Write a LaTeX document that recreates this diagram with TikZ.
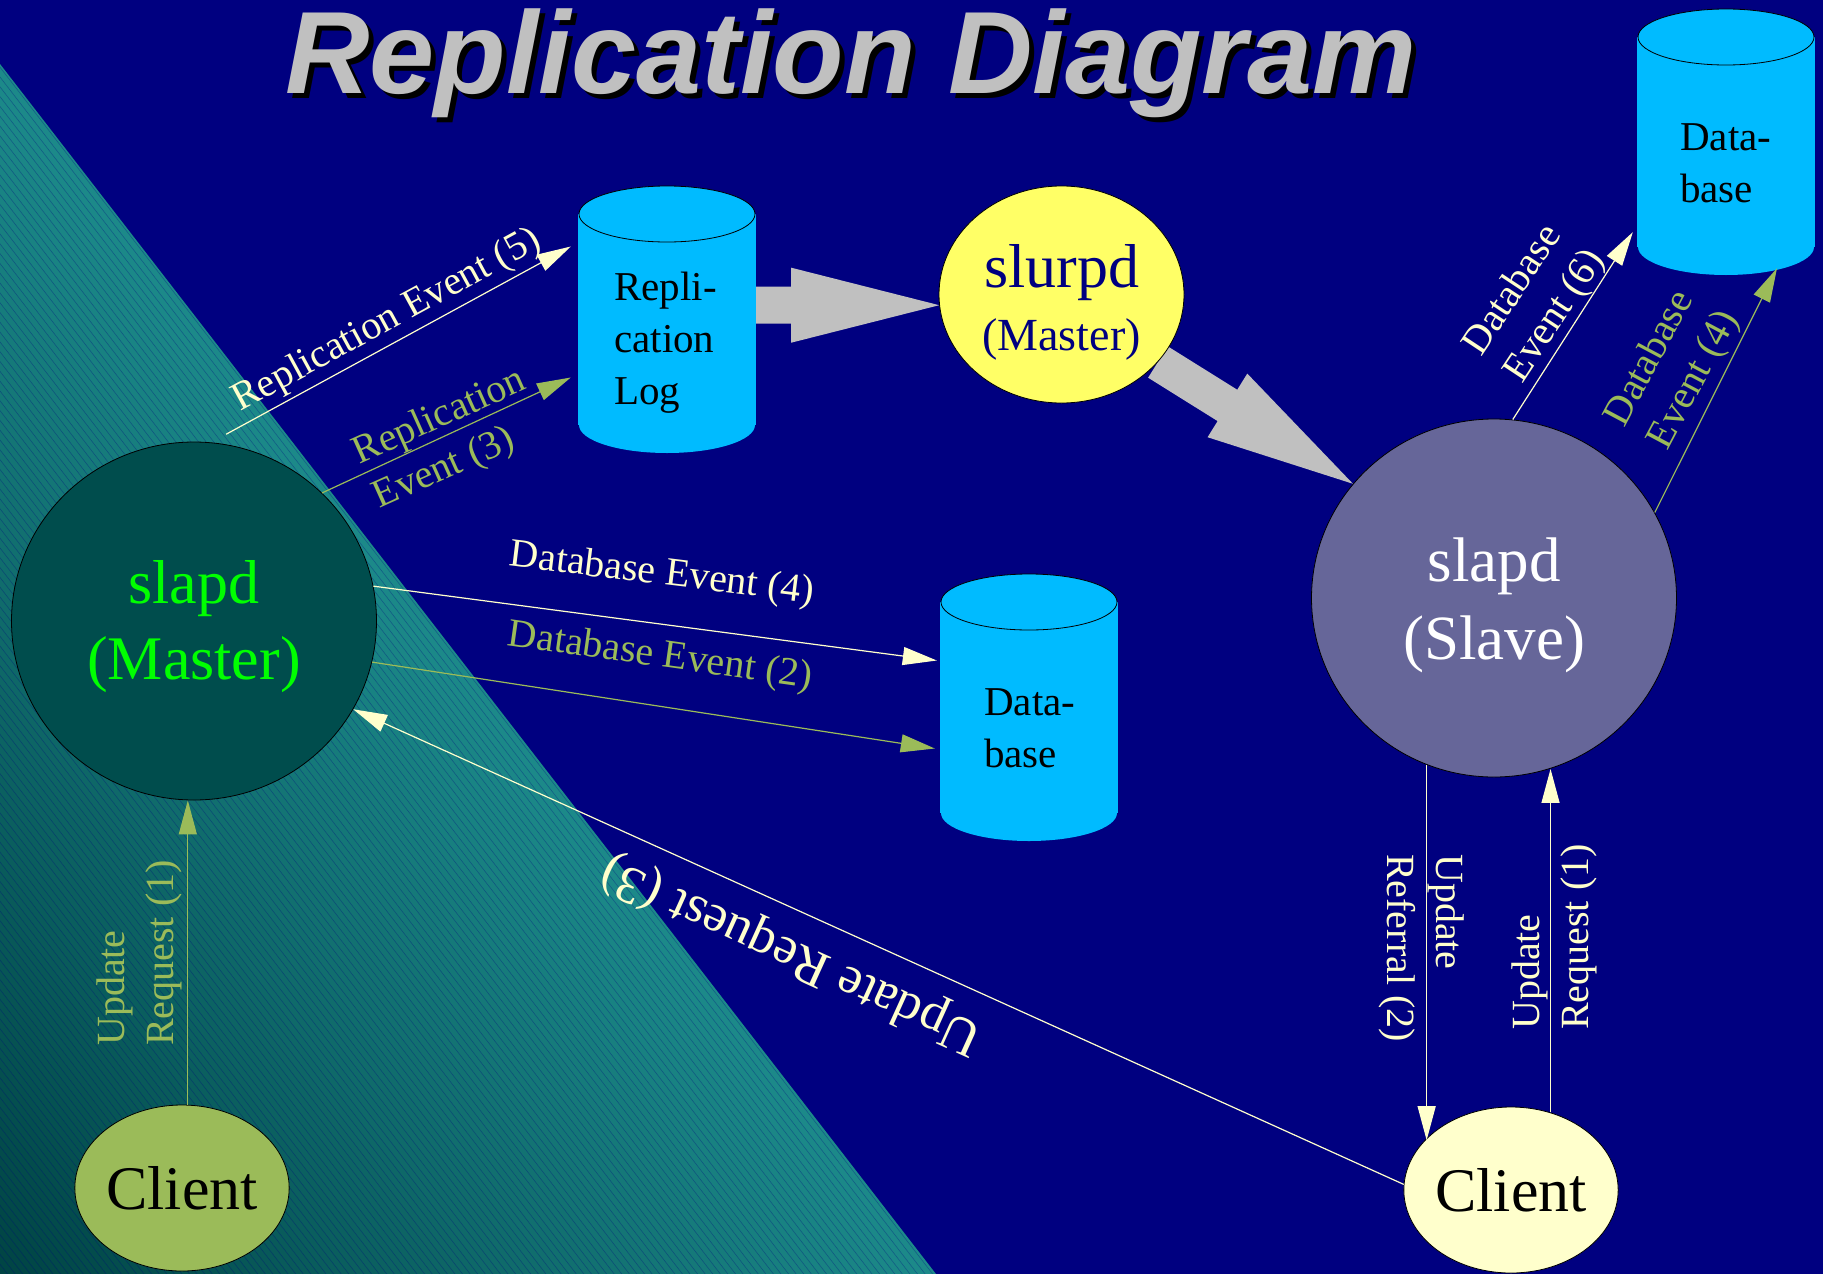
\documentclass[tikz,border=0pt]{standalone}
\usepackage{fontspec}
\setmainfont{Liberation Serif}
\newfontfamily\titlefont{Liberation Sans}
\usetikzlibrary{shapes.geometric,arrows.meta,calc}

\pgfdeclarelayer{bg}
\pgfdeclarelayer{behind}
\pgfsetlayers{bg,behind,main}

\definecolor{bgnavy}{HTML}{000080}
\definecolor{tealdark}{HTML}{004444}
\definecolor{teallight}{HTML}{1C8A8A}
\definecolor{dbcyan}{HTML}{00BBFF}
\definecolor{cream}{HTML}{FFFFCC}
\definecolor{olive}{HTML}{9BBB59}
\definecolor{slurpdyellow}{HTML}{FFFF66}
\definecolor{slavegrey}{HTML}{666699}
\definecolor{masterteal}{HTML}{004D4D}
\definecolor{blockgrey}{HTML}{C0C0C0}
\definecolor{mastergreen}{HTML}{00FF00}

\tikzset{
  daemon/.style={ellipse, draw=black, line width=0.8pt, inner sep=0pt, align=center},
  dbbody/.style={rectangle, fill=dbcyan, inner sep=0pt, minimum width=178pt},
  dbtext/.style={anchor=north west, inner sep=0pt, align=left, font=\fontsize{41}{52}\selectfont},
  msg/.style={line width=1.2pt, -{Triangle[length=34pt,width=18pt]}},
  creammsg/.style={msg, draw=cream},
  olivemsg/.style={msg, draw=olive},
  lbl/.style={inner sep=0pt, align=left, font=\fontsize{40}{49}\selectfont},
}

% database drum: name, centre x, top-ellipse y, bottom-ellipse y
\newcommand\dbcylinder[4]{%
  \coordinate (#1-top) at (#2,#3);
  \coordinate (#1-bot) at (#2,#4);
  \fill[dbcyan] (#1-bot) ellipse [x radius=88pt, y radius=28pt];
  \node[dbbody, minimum height={(#4-#3)*1pt}] (#1) at ($(#1-top)!0.5!(#1-bot)$) {};
  \filldraw[fill=dbcyan, draw=black, line width=0.8pt] (#1-top) ellipse [x radius=88pt, y radius=28pt];
}

% wide grey block arrow from #1 to its tip #2
\newcommand\blockarrow[2]{%
  \path (#1) coordinate (ba-s) (#2) coordinate (ba-t);
  \path ($(ba-t)!148pt!(ba-s)$) coordinate (ba-h);
  \fill[blockgrey]
    ($(ba-s)!18.5pt!90:(ba-t)$) -- ($(ba-h)!18.5pt!90:(ba-t)$) --
    ($(ba-h)!37.5pt!90:(ba-t)$) -- (ba-t) --
    ($(ba-h)!37.5pt!-90:(ba-t)$) -- ($(ba-h)!18.5pt!-90:(ba-t)$) --
    ($(ba-s)!18.5pt!-90:(ba-t)$) -- cycle;
}

\begin{document}
\begin{tikzpicture}[x=1pt,y=-1pt]
\useasboundingbox (0,0) rectangle (1823,1274);

\begin{pgfonlayer}{bg}
  \fill[bgnavy] (0,0) rectangle (1823,1274);
  % shaded teal wedge with fine banding
  \begin{scope}
    \clip (0,64) -- (936,1274) -- (0,1274) -- cycle;
    \begin{scope}[shift={(0,1274)}, rotate=-52.3]
      \foreach \i in {0,...,124} {
        \pgfmathsetmacro\pct{min(100,100*\i/123)}
        \pgfmathsetmacro\ya{6*\i}
        \pgfmathsetmacro\yb{6*\i+6.4}
        \fill[teallight!\pct!tealdark] (-1700pt,\ya pt) rectangle (1700pt,\yb pt);
        \draw[bgnavy, opacity=0.3, line width=0.6pt] (-1700pt,\ya pt) -- (1700pt,\ya pt);
      }
    \end{scope}
  \end{scope}
  % title with drop shadow
  \node[anchor=base west, inner sep=0pt, text=black,
        font=\titlefont\bfseries\itshape\fontsize{117}{117}\selectfont]
        (title-shadow) at (290,98) {Replication Diagram};
  \node[anchor=base west, inner sep=0pt, text=blockgrey,
        font=\titlefont\bfseries\itshape\fontsize{117}{117}\selectfont]
        (title) at (285,93) {Replication Diagram};
\end{pgfonlayer}

% databases
\dbcylinder{replog}{667}{214}{425}
\node[dbtext] (replog-text) at (614,272) {Repli-\\cation\\Log};
\dbcylinder{db2}{1029}{602}{813}
\node[dbtext] (db2-text) at (984,688) {Data-\\base};
\dbcylinder{db3}{1726}{37}{247}
\node[dbtext] (db3-text) at (1680,123) {Data-\\base};

% daemons and clients
\node[daemon, fill=masterteal, text=mastergreen, minimum width=365pt, minimum height=358pt,
      font=\fontsize{62}{76}\selectfont] (master) at (194,621)
      {\rule{0pt}{55pt}slapd\\(Master)};
\node[daemon, fill=slurpdyellow, text=bgnavy, minimum width=245pt, minimum height=217pt,
      font=\fontsize{46}{63}\selectfont] (slurpd) at (1061.5,294.5)
      {{\fontsize{62}{63}\selectfont\rule{0pt}{58pt}slurpd}\\(Master)};
\node[daemon, fill=slavegrey, text=white, minimum width=365pt, minimum height=358pt,
      font=\fontsize{63}{78}\selectfont] (slave) at (1494,598)
      {\rule{0pt}{59pt}slapd\\(Slave)};
\node[daemon, fill=olive, text=black, minimum width=212pt, minimum height=166pt,
      font=\fontsize{62}{62}\selectfont] (lclient) at (182,1188) {Client};
\node[daemon, fill=cream, text=black, minimum width=212pt, minimum height=166pt,
      font=\fontsize{62}{62}\selectfont] (rclient) at (1511,1190) {Client};

% replication feed
\begin{pgfonlayer}{behind}
  \blockarrow{replog.east |- slurpd.185}{slurpd.185}
  \blockarrow{slurpd.-35}{slave.141}
\end{pgfonlayer}

% update flow on the master side
\coordinate (r5-start) at ($(master.80)+(1,-10)$);
\draw[creammsg] (r5-start) -- ($(replog.west)+(-7,-73)$);
\draw[olivemsg] (master.45) -- ($(replog.west)+(-7,58)$);
\draw[creammsg] (master.11) -- ($(db2.west)+(-3,-47)$);
\draw[olivemsg] (master.-13) -- ($(db2.west)+(-5,41)$);
\draw[olivemsg] (lclient.86) -- (lclient.86 |- master.south);
\draw[creammsg] (rclient.177) -- (master.-29);

% update flow on the slave side
\draw[creammsg] (slave.-112) -- (slave.-112 |- rclient.150);
\draw[creammsg] (rclient.63) -- (rclient.63 |- slave.-72);
\draw[creammsg] (slave.84) -- ($(db3.south west)+(-4,-15)$);
\draw[olivemsg] (slave.28) -- ($(db3.south)+(51,21)$);

% message labels
\node[lbl, text=cream, rotate=28.6] (lab-repl5) at (387,321) {Replication Event (5)};
\node[lbl, text=olive, rotate=24.2] (lab-repl3) at (450,440) {Replication\\Event (3)};
\node[lbl, text=cream, rotate=-7] (lab-db4) at (662,575) {Database Event (4)};
\node[lbl, text=olive, rotate=-8] (lab-db2) at (660,657) {Database Event (2)};
\node[lbl, text=cream, rotate=155.6, font=\fontsize{53}{60}\selectfont] (lab-req3) at (792,954) {Update Request (3)};
\node[lbl, text=olive, rotate=90] (lab-req1m) at (139,953) {Update\\Request (1)};
\node[lbl, text=cream, rotate=-90] (lab-ref2) at (1422,948) {Update\\Referral (2)};
\node[lbl, text=cream, rotate=90] (lab-req1s) at (1554,937) {Update\\Request (1)};
\node[lbl, text=cream, rotate=56.5] (lab-db6) at (1535,303) {Database\\Event (6)};
\node[lbl, text=olive, rotate=62] (lab-db4s) at (1673,369) {Database\\Event (4)};
\end{tikzpicture}
\end{document}
